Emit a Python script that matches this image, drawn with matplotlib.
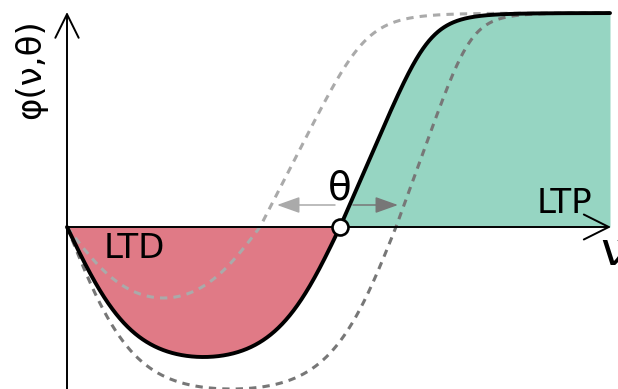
import numpy as np
import matplotlib
matplotlib.use("Agg")
import matplotlib.pyplot as plt

# Threshold positions (rate units) for the three plasticity curves
theta_low, theta_mid, theta_high = 1.93, 2.73, 3.29
# Depth of the depression lobe for each threshold
depth_low, depth_mid, depth_high = 0.71, 1.30, 1.62
# Initial slope of the potentiation branch for each threshold
rise_low, rise_mid, rise_high = 1.95, 2.30, 2.75
# Shared shape parameters
phi_max = 2.14      # saturation level of potentiation
k_ltd = 1.5         # sharpness of the depression lobe
knee = 6.0          # sharpness of the saturation knee
nu_max = 5.43       # right end of the drawn rate range

FONT = ["DejaVu Sans Condensed", "DejaVu Sans"]


def phi(nu, theta, depth, rise):
    nu = np.asarray(nu, dtype=float)
    out = np.empty_like(nu)
    left = nu < theta
    norm = np.tanh(k_ltd * theta / 2) ** 2
    out[left] = -depth * np.tanh(k_ltd * nu[left]) * np.tanh(k_ltd * (theta - nu[left])) / norm
    x = rise * (nu[~left] - theta) / phi_max
    out[~left] = phi_max * x / (1 + x ** knee) ** (1 / knee)
    return out


fig = plt.figure(figsize=(6.18, 3.89), dpi=100)
ax = fig.add_axes([0, 0, 1, 1])
ax.set_xlim(-0.67, 5.51)
ax.set_ylim(-1.62, 2.27)
ax.axis("off")

nu = np.linspace(0, nu_max, 2000)
phi_low = phi(nu, theta_low, depth_low, rise_low)
phi_mid = phi(nu, theta_mid, depth_mid, rise_mid)
phi_high = phi(nu, theta_high, depth_high, rise_high)

# LTD / LTP shaded regions under the central curve
ax.fill_between(nu, phi_mid, 0, where=nu <= theta_mid, color="#e07a86", lw=0, zorder=1)
ax.fill_between(nu, phi_mid, 0, where=nu >= theta_mid, color="#96d5c2", lw=0, zorder=1)

# Axes with open arrowheads
ax.annotate("", xy=(0, 2.15), xytext=(0, -1.7),
            arrowprops=dict(arrowstyle="->,head_length=0.85,head_width=0.42",
                            lw=1.4, color="black", mutation_scale=20,
                            shrinkA=0, shrinkB=0), zorder=3)
ax.annotate("", xy=(5.44, 0), xytext=(0, 0),
            arrowprops=dict(arrowstyle="->,head_length=0.9,head_width=0.45",
                            lw=1.4, color="black", mutation_scale=20,
                            shrinkA=0, shrinkB=0), zorder=3)

# Curves for shifted thresholds
ax.plot(nu, phi_low, color="#aaaaaa", lw=2.2, ls=(0, (2.4, 2.0)), zorder=2)
ax.plot(nu, phi_high, color="#777777", lw=2.2, ls=(0, (2.4, 2.0)), zorder=2)
ax.plot(nu, phi_mid, color="black", lw=2.8, zorder=4, solid_capstyle="round")

# Threshold shift arrows
ax.annotate("", xy=(theta_low + 0.17, 0.22), xytext=(theta_mid - 0.05, 0.22),
            arrowprops=dict(arrowstyle="-|>,head_length=0.7,head_width=0.25",
                            lw=1.1, color="#aaaaaa", mutation_scale=20,
                            shrinkA=0, shrinkB=0), zorder=3)
ax.annotate("", xy=(theta_high + 0.02, 0.22), xytext=(theta_mid + 0.13, 0.22),
            arrowprops=dict(arrowstyle="-|>,head_length=0.7,head_width=0.25",
                            lw=1.1, color="#777777", mutation_scale=20,
                            shrinkA=0, shrinkB=0), zorder=3)

# Threshold marker
ax.plot([theta_mid], [0], marker="o", ms=11.5, mfc="white", mec="black",
        mew=1.9, zorder=5)

ax.text(theta_mid, 0.27, "θ", fontsize=28, ha="center", va="baseline",
        family=FONT, zorder=6)
ax.text(0.37, -0.31, "LTD", fontsize=24.5, ha="left", va="baseline",
        family=FONT, zorder=6)
ax.text(4.70, 0.14, "LTP", fontsize=24.5, ha="left", va="baseline",
        family=FONT, zorder=6)
ax.text(5.33, -0.38, "ν", fontsize=34, ha="left", va="baseline",
        family=FONT, zorder=6)
ax.text(-0.36, 1.58, "φ(ν,θ)", fontsize=24.5, ha="center", va="center",
        rotation=90, family=FONT, zorder=6)

fig.savefig("out.png", dpi=100)
